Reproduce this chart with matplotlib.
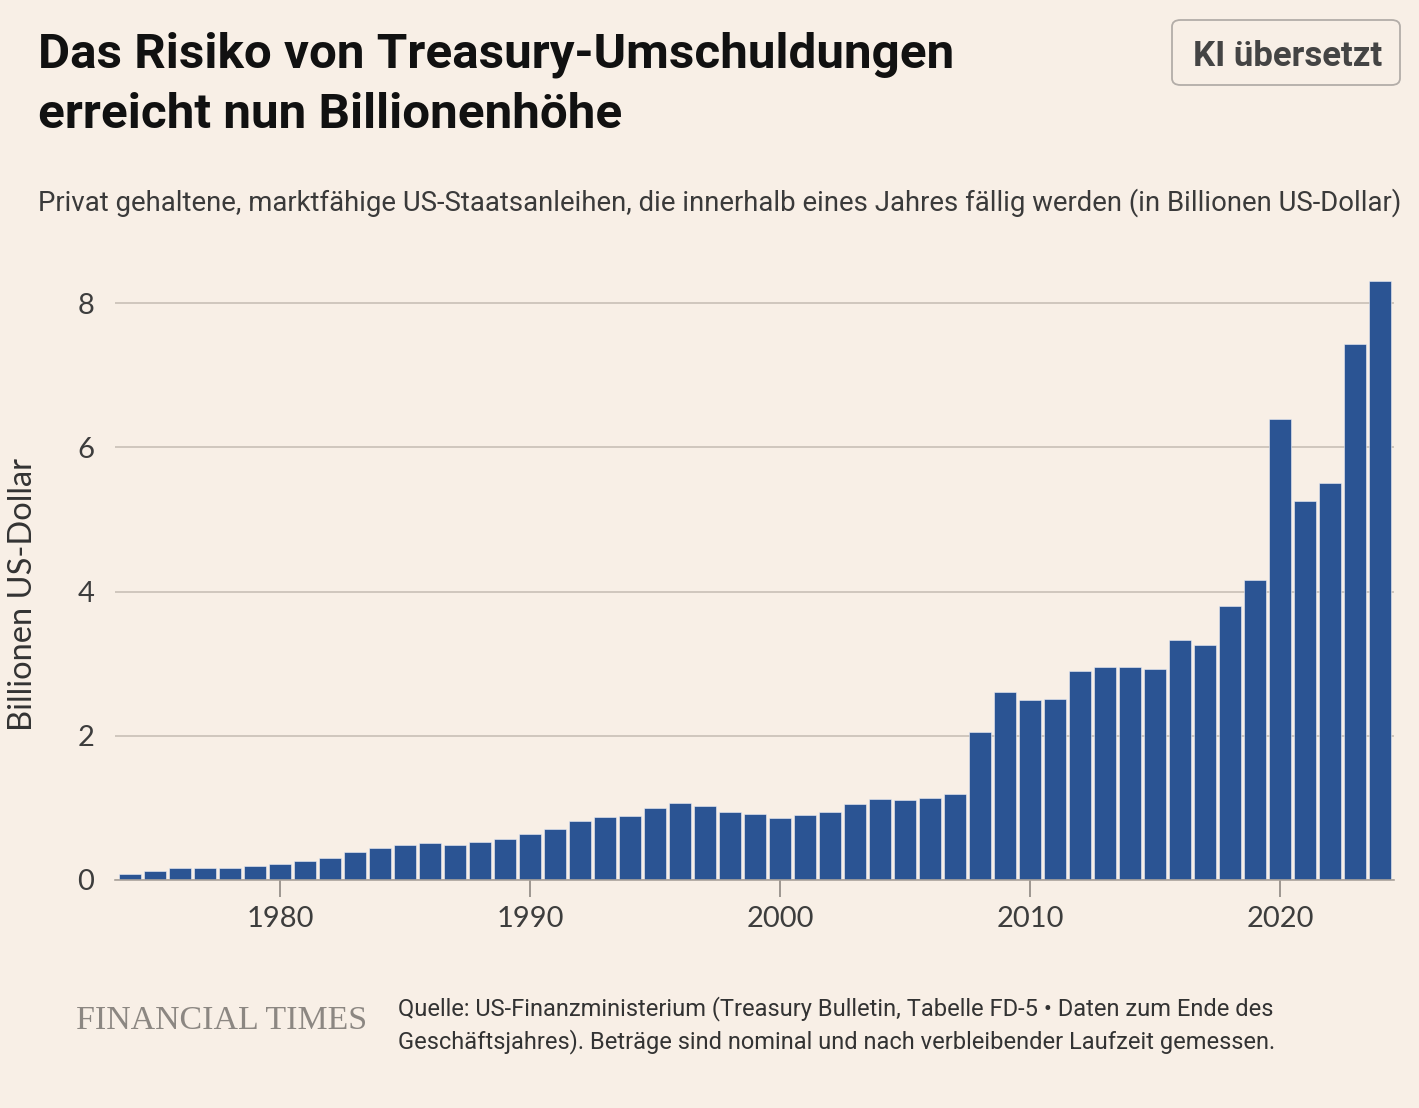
import matplotlib
matplotlib.use("Agg")
import matplotlib.pyplot as plt
from matplotlib.patches import FancyBboxPatch

# Privat gehaltene, marktfähige US-Staatsanleihen mit Fälligkeit < 1 Jahr (Bio. USD)
years = list(range(1974, 2025))
values = [
    0.09, 0.13, 0.17, 0.17, 0.17, 0.19, 0.22, 0.26, 0.31, 0.39,   # 1974-1983
    0.44, 0.48, 0.52, 0.49, 0.53, 0.57, 0.64, 0.71, 0.82, 0.87,   # 1984-1993
    0.89, 1.00, 1.07, 1.02, 0.95, 0.92, 0.86, 0.90, 0.94, 1.06,   # 1994-2003
    1.13, 1.11, 1.14, 1.19, 2.05, 2.61, 2.49, 2.51, 2.90, 2.95,   # 2004-2013
    2.95, 2.93, 3.33, 3.26, 3.80, 4.16, 6.39, 5.25, 5.51, 7.43,   # 2014-2023
    8.31,                                                         # 2024
]
x_ticks = [1980, 1990, 2000, 2010, 2020]
y_ticks = [0, 2, 4, 6, 8]

title_lines = ["Das Risiko von Treasury-Umschuldungen", "erreicht nun Billionenhöhe"]
subtitle = ("Privat gehaltene, marktfähige US-Staatsanleihen, die innerhalb eines "
            "Jahres fällig werden (in Billionen US-Dollar)")
source_lines = ["Quelle: US-Finanzministerium (Treasury Bulletin, Tabelle FD-5 \u2022 Daten zum Ende des",
                "Geschäftsjahres). Beträge sind nominal und nach verbleibender Laufzeit gemessen."]

BG = "#F8EFE6"
BAR = "#2B5493"
GRID = "#CCC3BA"
NARROW = ["Roboto", "DejaVu Sans"]
TICKFONT = ["Lato", "DejaVu Sans"]

W, H = 1419, 1108
fig = plt.figure(figsize=(W / 100, H / 100), dpi=100, facecolor=BG)

def fx(px):
    return px / W

def fy(py):
    return 1 - py / H

# axes: x from 115 to 1394 px, zero line at 880 px, 72.1 px per unit
ymax = 8.4
ax_w = 1394 - 115
ax_h = ymax * 72.1
ax = fig.add_axes([fx(115), fy(880), ax_w / W, ax_h / H])
ax.set_facecolor(BG)
ax.bar(years, values, width=0.87, color=BAR, edgecolor="#EEF0F6", linewidth=0.4, zorder=3)
ax.set_xlim(1973.4, 2024.56)
ax.set_ylim(0, ymax)

for s in ["top", "right", "left"]:
    ax.spines[s].set_visible(False)
ax.spines["bottom"].set_color("#A9A29B")
ax.spines["bottom"].set_linewidth(1.2)
ax.spines["bottom"].set_zorder(4)

ax.set_yticks(y_ticks)
ax.set_yticklabels([str(v) for v in y_ticks])
ax.set_xticks(x_ticks)
ax.set_xticklabels([str(v) for v in x_ticks])
ax.tick_params(axis="y", length=0, pad=15, labelsize=21, labelcolor="#3d3d3d")
ax.tick_params(axis="x", length=12, width=1.2, color="#8E8782", pad=7,
               labelsize=21, labelcolor="#3d3d3d")
for lab in ax.get_xticklabels() + ax.get_yticklabels():
    lab.set_family(TICKFONT)
ax.yaxis.grid(True, color=GRID, linewidth=1.3, zorder=0)
ax.set_axisbelow(True)

ax.set_ylabel("Billionen US-Dollar", fontsize=23.5, color="#333333", family=TICKFONT)
ax.yaxis.set_label_coords(-(115 - 38) / ax_w, (880 - 595) / ax_h, transform=ax.transAxes)

# titles
fig.text(fx(38), fy(67), title_lines[0], fontsize=35.6, fontweight="bold",
         color="#111111", family=NARROW, va="baseline")
fig.text(fx(38), fy(128), title_lines[1], fontsize=35.6, fontweight="bold",
         color="#111111", family=NARROW, va="baseline")
fig.text(fx(38), fy(211), subtitle, fontsize=19.8, color="#3a3a3a",
         family=NARROW, va="baseline")

# "KI übersetzt" badge
badge = FancyBboxPatch((fx(1172), fy(85)), fx(1400) - fx(1172), fy(20) - fy(85),
                       boxstyle="round,pad=0,rounding_size=0.006",
                       transform=fig.transFigure, facecolor="none",
                       edgecolor="#B3ADA8", linewidth=1.3)
fig.patches.append(badge)
fig.text(fx(1288), fy(66), "KI übersetzt", fontsize=25, fontweight="bold",
         color="#444444", family=NARROW, ha="center", va="baseline")

# footer
fig.text(fx(76), fy(1029), "FINANCIAL TIMES", fontsize=24.4, color="#8C8782",
         family=["Liberation Serif", "DejaVu Serif"], va="baseline")
fig.text(fx(398), fy(1015), source_lines[0], fontsize=17, color="#333333",
         family=NARROW, va="baseline")
fig.text(fx(398), fy(1048), source_lines[1], fontsize=17, color="#333333",
         family=NARROW, va="baseline")

fig.savefig("out.png", dpi=100, facecolor=BG)
